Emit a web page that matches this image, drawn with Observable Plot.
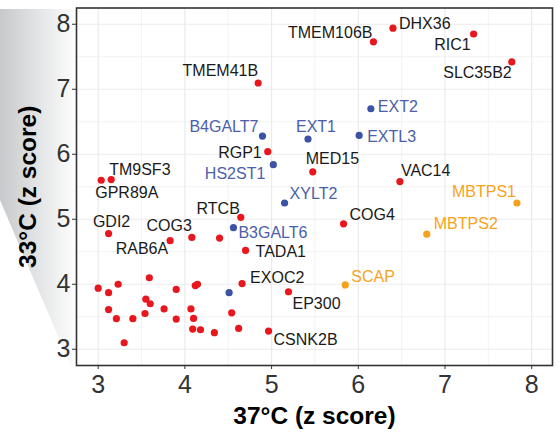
<!DOCTYPE html>
<html>
<head>
<meta charset="utf-8">
<script src="https://cdn.jsdelivr.net/npm/d3@7"></script>
<script src="https://cdn.jsdelivr.net/npm/@observablehq/plot@0.6"></script>
<style>
  html, body { margin: 0; padding: 0; background: #ffffff; }
  #wrap { position: relative; width: 560px; height: 432px; }
  #wedge {
    position: absolute; left: 0; top: 0; width: 78px; height: 432px;
    background: linear-gradient(to right, #c8c9cb 0%, #e6e7e8 55%, #ffffff 100%);
    clip-path: polygon(0px 9px, 78px 9px, 78px 369px, 72px 369px, 0px 200px);
    z-index: 0;
  }
  #chart { position: absolute; left: 0; top: 0; z-index: 1; }
</style>
</head>
<body>
<div id="wrap"><div id="wedge"></div><div id="chart"></div></div>
<script>
// ---- data ----
const genes = [
  "TMEM41B","TMEM106B","DHX36","RIC1","SLC35B2","EXT2","EXTL3","EXT1","B4GALT7","RGP1",
  "HS2ST1","MED15","TM9SF3","GPR89A","VAC14","XYLT2","MBTPS1","COG4","MBTPS2","SCAP",
  "EP300","CSNK2B","EXOC2","TADA1","B3GALT6","RTCB","GDI2","COG3","RAB6A","",
  "","","","","","","","","","",
  "","","","","","","","","","",
  "","","",""
];
const x37 = [
  4.845, 6.175, 6.40, 7.33, 7.77, 6.145, 6.01, 5.42, 4.895, 4.956,
  5.02, 5.475, 3.15, 3.035, 6.48, 5.15, 7.83, 5.83, 6.79, 5.85,
  5.195, 4.965, 4.66, 4.70, 4.56, 4.645, 3.12, 4.08, 3.83, 4.40,
  4.51, 3.00, 3.12, 3.23, 3.59, 3.55, 3.60, 3.90, 4.12, 4.145,
  3.12, 3.21, 3.40, 3.54, 3.76, 3.90, 4.07, 4.10, 4.09, 4.18,
  4.34, 4.54, 4.62, 3.30
];
const y33 = [
  7.096, 7.73, 7.94, 7.85, 7.42, 6.70, 6.29, 6.235, 6.28, 6.04,
  5.84, 5.73, 5.61, 5.60, 5.58, 5.25, 5.25, 4.93, 4.77, 3.99,
  3.885, 3.28, 4.01, 4.52, 4.87, 5.03, 4.78, 4.72, 4.67, 4.71,
  3.87, 3.94, 3.87, 4.00, 4.10, 3.77, 3.70, 3.92, 3.98, 4.00,
  3.61, 3.47, 3.47, 3.55, 3.62, 3.465, 3.62, 3.475, 3.31, 3.30,
  3.255, 3.56, 3.32, 3.10
];
const groups = [
  "other","other","other","other","other","hs","hs","hs","hs","other",
  "hs","other","other","other","other","hs","srebp","other","srebp","srebp",
  "other","other","other","other","hs","other","other","other","other","other",
  "hs","other","other","other","other","other","other","other","other","other",
  "other","other","other","other","other","other","other","other","other","other",
  "other","other","other","other"
];
const xTicks = [3, 4, 5, 6, 7, 8];
const yTicks = [3, 4, 5, 6, 7, 8];
const xMinor = [3.5, 4.5, 5.5, 6.5, 7.5];
const yMinor = [3.5, 4.5, 5.5, 6.5, 7.5];
const xTitle = "37°C (z score)";
const yTitle = "33°C (z score)";

// ---- styles / layout ----
const dotColor = {other: "#e8171e", hs: "#3b53a4", srebp: "#f6a11c"};
const labelColor = {other: "#1a1a1a", hs: "#4a60aa", srebp: "#f7a31c"};
const labelPos = {
  TMEM41B: ["end", 0, -12], TMEM106B: ["end", -1, -9], DHX36: ["start", 6, -4],
  RIC1: ["end", -3, 11], SLC35B2: ["end", 0, 11], EXT2: ["start", 7, -1.5],
  EXTL3: ["start", 8, 1.5], EXT1: ["middle", 8, -12], B4GALT7: ["end", -4, -9],
  RGP1: ["end", -6, 1.5], HS2ST1: ["end", -8, 9], MED15: ["start", -7, -13],
  TM9SF3: ["start", -2, -10], GPR89A: ["start", -6, 12.7], VAC14: ["start", 1, -11],
  XYLT2: ["start", 5, -9], MBTPS1: ["end", -1, -11], COG4: ["start", 6, -9],
  MBTPS2: ["start", 7, -10], SCAP: ["start", 6, -8], EP300: ["start", 4, 12],
  CSNK2B: ["start", 5, 9], EXOC2: ["start", 8, -6], TADA1: ["start", 10, 1],
  B3GALT6: ["start", 5, 5], RTCB: ["end", -1, -8], GDI2: ["middle", 3, -12],
  COG3: ["end", 0, -12], RAB6A: ["end", -2, 8]
};

const data = genes.map((g, i) => ({gene: g, x: x37[i], y: y33[i], group: groups[i]}));
const font = "'Liberation Sans', Arial, Helvetica, sans-serif";

const labelMarks = data.filter(d => d.gene !== "").map(d => {
  const [anchor, dx, dy] = labelPos[d.gene];
  return Plot.text([d], {
    x: "x", y: "y", text: "gene", textAnchor: anchor, lineAnchor: "middle",
    dx, dy, fontSize: 16, fill: labelColor[d.group]
  });
});

const chart = Plot.plot({
  width: 560, height: 432,
  marginLeft: 76, marginRight: 8, marginTop: 7.5, marginBottom: 67,
  style: {background: "transparent", fontFamily: font, fontSize: "25px", color: "#333"},
  x: {domain: [2.75, 8.24], ticks: xTicks, tickSize: 4, tickPadding: 6, label: null, tickFormat: d => String(d)},
  y: {domain: [2.75, 8.25], ticks: yTicks, tickSize: 4, tickPadding: 2, label: null, tickFormat: d => String(d)},
  marks: [
    Plot.frame({fill: "white", stroke: "none"}),
    Plot.ruleX(xMinor, {stroke: "#efefef", strokeWidth: 0.8}),
    Plot.ruleY(yMinor, {stroke: "#efefef", strokeWidth: 0.8}),
    Plot.ruleX(xTicks, {stroke: "#ebebeb", strokeWidth: 1.2}),
    Plot.ruleY(yTicks, {stroke: "#ebebeb", strokeWidth: 1.2}),
    Plot.dot(data, {x: "x", y: "y", r: 3.6, fill: d => dotColor[d.group], stroke: "none"}),
    ...labelMarks,
    Plot.frame({stroke: "#333", strokeWidth: 1.6}),
    Plot.text([xTitle], {frameAnchor: "bottom", dy: 51, textAnchor: "middle", lineAnchor: "middle", text: d => d, fontSize: 24.5, fontWeight: "bold", fill: "#000"}),
    Plot.text([yTitle], {frameAnchor: "left", dx: -48, rotate: -90, textAnchor: "middle", lineAnchor: "middle", text: d => d, fontSize: 24.5, fontWeight: "bold", fill: "#000"})
  ]
});
document.getElementById("chart").appendChild(chart);
</script>
</body>
</html>
